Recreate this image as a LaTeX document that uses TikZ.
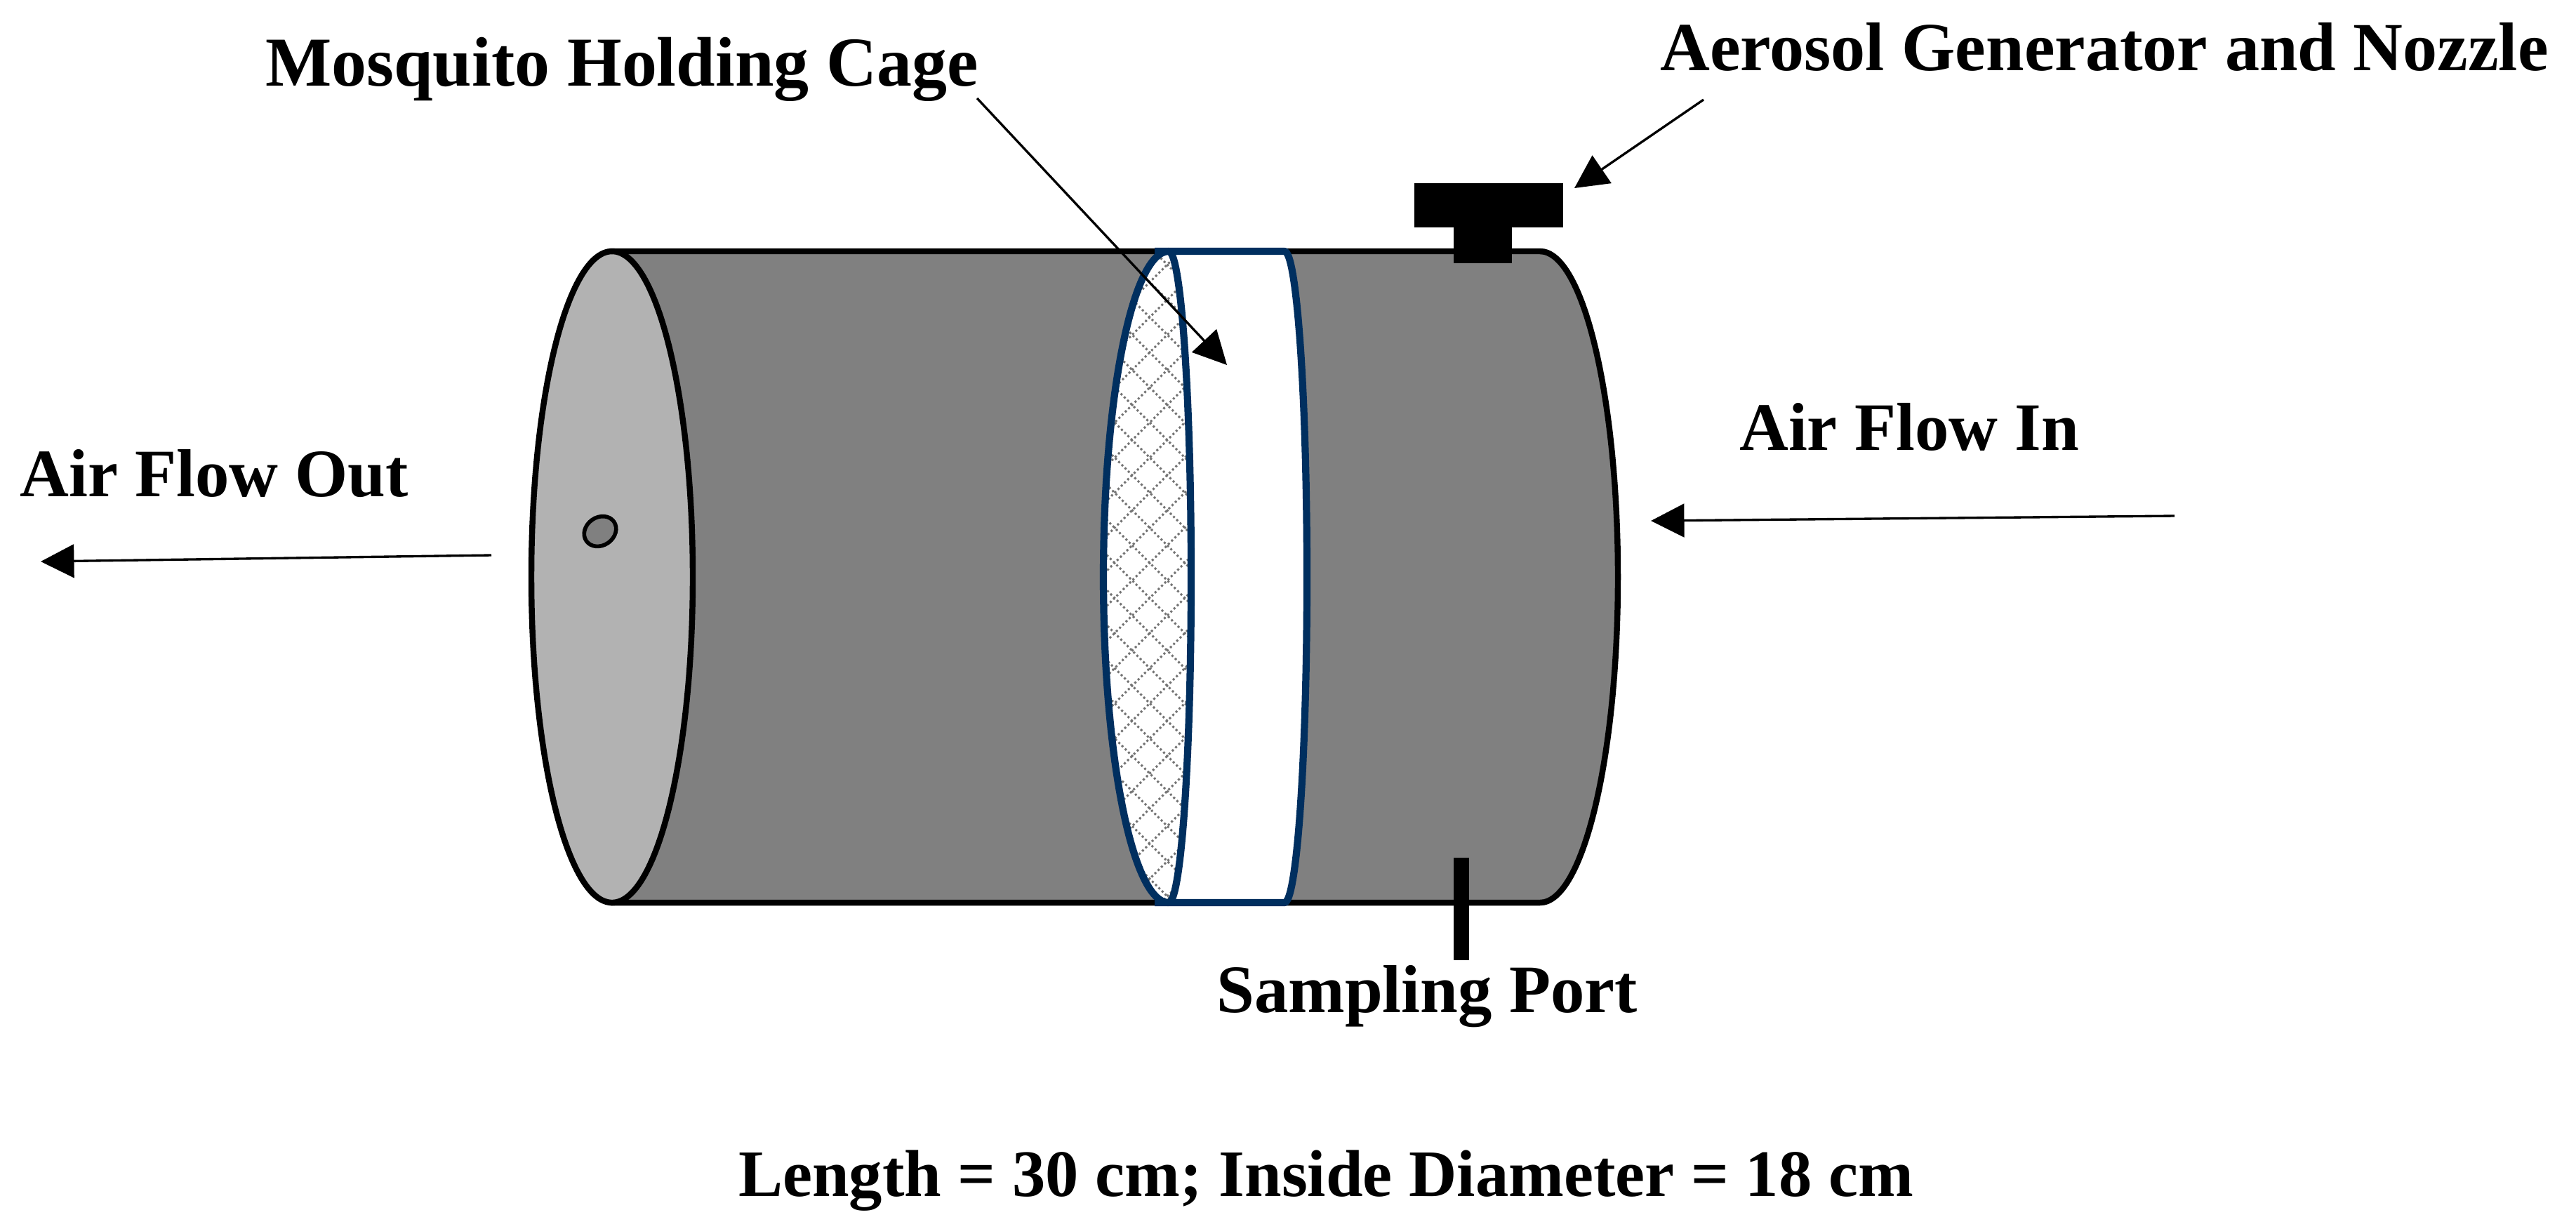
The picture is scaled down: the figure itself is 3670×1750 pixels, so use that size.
\documentclass[tikz,border=0pt]{standalone}
\usepackage{fontspec}
\setmainfont{Liberation Serif}
\usepackage{xcolor}
\definecolor{cagblue}{RGB}{0,47,95}
\definecolor{tubegray}{RGB}{128,128,128}
\definecolor{endgray}{RGB}{178,178,178}
\definecolor{meshgray}{RGB}{115,115,115}
\usetikzlibrary{arrows.meta}
\tikzset{
  lbl/.style={font=\fontsize{#1}{30}\selectfont\bfseries, anchor=base, inner sep=0pt},
  lbl/.default=27.5,
  tubeline/.style={draw=black, line width=2.4pt},
  cageline/.style={draw=cagblue, line width=2.9pt},
  meshline/.style={meshgray, line width=0.85pt, dash pattern=on 0.85pt off 1pt},
  solidpart/.style={fill=black, draw=none},
  callout/.style={-{Triangle[length=13.5pt,width=13.5pt]}, line width=0.95pt, black},
}

\begin{document}
\begin{tikzpicture}[x=0.01cm,y=-0.01cm]
  \useasboundingbox (0,0) rectangle (3670,1750);

  % Tube body and open end
  \draw[tubeline, fill=tubegray, line join=round] (870,358) -- (2194,358)
    arc[start angle=-90, end angle=90, x radius=111, y radius=464] -- (870,1286) -- cycle;
  \draw[tubeline, fill=endgray] (872,822) ellipse [x radius=115, y radius=464];
  \draw[line width=1.6pt, fill=tubegray, rotate around={35:(855,757)}] (855,757) ellipse [x radius=24, y radius=20];

  % Cage band
  \draw[cageline, fill=white, line join=round] (1645,358) -- (1830,358)
    arc[start angle=-90, end angle=90, x radius=32, y radius=464] -- (1645,1286);
  \fill[white] (1665,358) arc[start angle=-90, end angle=-270, x radius=93, y radius=464]
    arc[start angle=90, end angle=-90, x radius=32, y radius=464] -- cycle;
  % Mesh
  \begin{scope}
    \clip (1665,358) arc[start angle=-90, end angle=-270, x radius=93, y radius=464]
      arc[start angle=90, end angle=-90, x radius=32, y radius=464] -- cycle;
    \foreach \k in {-20,...,20} {
      \draw[meshline] (638+\k*50,-548) -- ++(2000,2000);
      \draw[meshline] (638+\k*50,1452) -- ++(2000,-2000);
    }
  \end{scope}
  \draw[cageline] (1665,358) arc[start angle=-90, end angle=-270, x radius=93, y radius=464];
  \draw[cageline] (1665,358) arc[start angle=-90, end angle=90, x radius=32, y radius=464];

  % Nozzle and sampling port
  \fill[solidpart] (2015,261) rectangle (2227,324);
  \fill[solidpart] (2071,324) rectangle (2154,375);
  \fill[solidpart] (2071,1222) rectangle (2093,1368);

  % Labels
  \node[lbl=28.4] (cagelabel) at (886,122) {Mosquito Holding Cage};
  \node[lbl=27.9] (aerosollabel) at (2998,100) {Aerosol Generator and Nozzle};
  \node[lbl] (inlabel) at (2720,641) {Air Flow In};
  \node[lbl] (outlabel) at (305,707) {Air Flow Out};
  \node[lbl] (portlabel) at (2033,1442) {Sampling Port};
  \node[lbl=26.9] (sizelabel) at (1889,1704) {Length = 30 cm; Inside Diameter = 18 cm};

  % Arrows
  \coordinate (cagefrom) at (1392,140);
  \coordinate (cageto) at (1748,520);
  \coordinate (aerosolfrom) at (2427,142);
  \coordinate (aerosolto) at (2243,268);
  \coordinate (infrom) at (3098,735);
  \coordinate (into) at (2352,742);
  \coordinate (outfrom) at (700,791);
  \coordinate (outto) at (58,800);
  \draw[callout] (cagefrom) -- (cageto);
  \draw[callout] (aerosolfrom) -- (aerosolto);
  \draw[callout] (infrom) -- (into);
  \draw[callout] (outfrom) -- (outto);
\end{tikzpicture}
\end{document}
